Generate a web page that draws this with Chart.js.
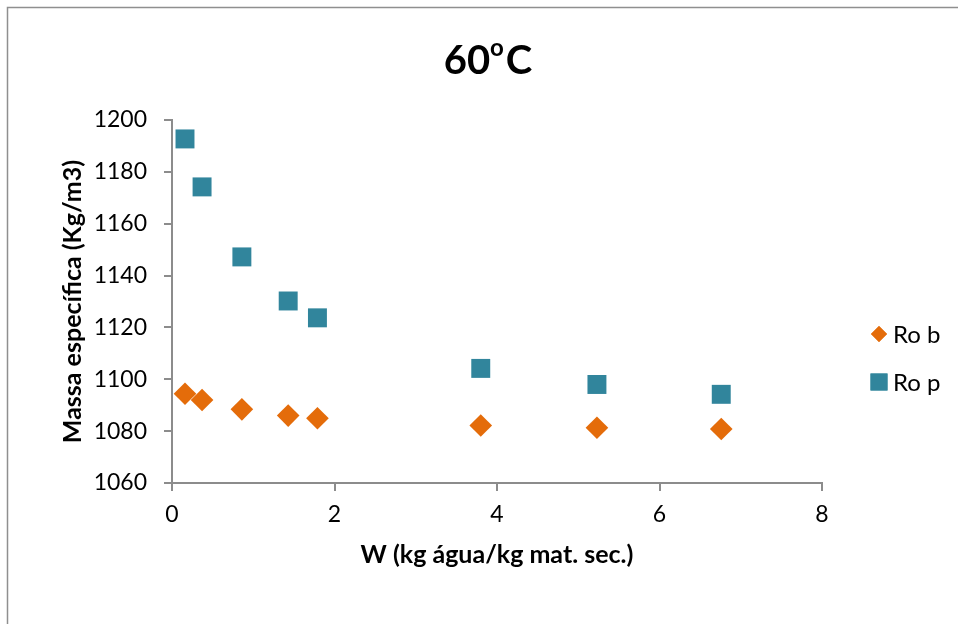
<!DOCTYPE html>
<html>
<head>
<meta charset="utf-8">
<script src="https://cdn.jsdelivr.net/npm/chart.js@4.4.1/dist/chart.umd.min.js"></script>
<style>
  html, body { margin: 0; padding: 0; background: #ffffff; overflow: hidden; }
  #wrap { width: 958px; height: 624px; position: relative; }
</style>
</head>
<body>
<div id="wrap"><canvas id="chart" width="958" height="624"></canvas></div>
<script>
// Water content W (kg water / kg dry matter)
const wValues = [0.16, 0.37, 0.86, 1.43, 1.79, 3.80, 5.23, 6.76];
// Specific mass series (kg/m3)
const roB = [1094.4, 1092.0, 1088.4, 1086.0, 1085.0, 1082.2, 1081.3, 1080.8];
const roP = [1192.7, 1174.2, 1147.2, 1130.2, 1123.7, 1104.2, 1098.0, 1094.2];
const seriesNames = ['Ro b', 'Ro p'];
const xTicks = [0, 2, 4, 6, 8];
const yTicks = [1060, 1080, 1100, 1120, 1140, 1160, 1180, 1200];

const FONT = 'Lato, "Open Sans", "Liberation Sans", sans-serif';
const AXIS_GRAY = '#8c8c8c';
const ORANGE = '#E46C0A';
const TEAL = '#31859C';

const toPoints = (ys) => wValues.map((w, i) => ({ x: w, y: ys[i] }));

// Outer frame, superscript title and the right-hand legend
const decorations = {
  id: 'decorations',
  beforeDraw(chart) {
    const ctx = chart.ctx;
    ctx.save();
    ctx.strokeStyle = '#8f8f8f';
    ctx.lineWidth = 1.5;
    ctx.strokeRect(7.5, 7.5, 2000, 2000);
    ctx.restore();
  },
  afterDraw(chart) {
    const ctx = chart.ctx;
    ctx.save();
    // Title "60ºC" with raised small o
    const big = 'bold 40px ' + FONT;
    const small = 'bold 24px ' + FONT;
    ctx.fillStyle = '#000';
    ctx.textBaseline = 'alphabetic';
    ctx.font = big;
    const w60 = ctx.measureText('60').width;
    const wC = ctx.measureText('C').width;
    ctx.font = small;
    const wo = ctx.measureText('o').width;
    const total = w60 + wo + 2 + wC;
    let x = 488 - total / 2;
    const base = 74;
    ctx.font = big; ctx.textAlign = 'left';
    ctx.fillText('60', x, base); x += w60;
    ctx.font = small;
    ctx.fillText('o', x, base - 18); x += wo + 2;
    ctx.font = big;
    ctx.fillText('C', x, base);

    // Legend
    const items = [
      { ds: chart.data.datasets[0], y: 334, r: 8 },
      { ds: chart.data.datasets[1], y: 382, r: 12 }
    ];
    items.forEach(it => {
      ctx.fillStyle = it.ds.backgroundColor;
      ctx.beginPath();
      Chart.helpers.drawPoint(ctx, {
        pointStyle: it.ds.pointStyle, radius: it.r, rotation: 0, borderWidth: 0
      }, 879, it.y);
      ctx.fill();
      ctx.fillStyle = '#000';
      ctx.font = '24px ' + FONT;
      ctx.textBaseline = 'middle';
      ctx.textAlign = 'left';
      ctx.fillText(it.ds.label, 893, it.y + 1);
    });
    ctx.restore();
  }
};

new Chart(document.getElementById('chart'), {
  type: 'scatter',
  data: {
    datasets: [
      {
        label: seriesNames[0],
        data: toPoints(roB),
        pointStyle: 'rectRot',
        pointRadius: 11.3,
        pointHoverRadius: 11.3,
        backgroundColor: ORANGE,
        borderColor: ORANGE,
        pointBorderWidth: 0
      },
      {
        label: seriesNames[1],
        data: toPoints(roP),
        pointStyle: 'rect',
        pointRadius: 13.4,
        pointHoverRadius: 13.4,
        backgroundColor: TEAL,
        borderColor: TEAL,
        pointBorderWidth: 0
      }
    ]
  },
  plugins: [decorations],
  options: {
    responsive: false,
    animation: false,
    events: [],
    layout: { padding: { top: 120, right: 136, bottom: 0, left: 0 } },
    plugins: {
      legend: { display: false },
      title: { display: false },
      tooltip: { enabled: false }
    },
    scales: {
      x: {
        type: 'linear',
        min: 0, max: 8,
        afterBuildTicks(scale) { scale.ticks = xTicks.map(v => ({ value: v })); },
        afterFit(scale) { scale.height = 141; },
        border: { display: true, color: AXIS_GRAY, width: 2 },
        grid: { display: true, drawOnChartArea: false, drawTicks: true, tickLength: 8, color: AXIS_GRAY, lineWidth: 2 },
        ticks: { color: '#000', font: { family: FONT, size: 23 }, padding: 10, maxRotation: 0,
                 callback: (v) => String(v) },
        title: {
          display: true, text: 'W (kg água/kg mat. sec.)', color: '#000',
          font: { family: FONT, size: 25, weight: 'bold' }, padding: { top: 0, bottom: 54 }
        }
      },
      y: {
        type: 'linear',
        min: 1060, max: 1200,
        afterBuildTicks(scale) { scale.ticks = yTicks.map(v => ({ value: v })); },
        afterFit(scale) { scale.width = 172; },
        border: { display: true, color: AXIS_GRAY, width: 2 },
        grid: { display: true, drawOnChartArea: false, drawTicks: true, tickLength: 8, color: AXIS_GRAY, lineWidth: 2 },
        ticks: { color: '#000', font: { family: FONT, size: 23 }, padding: 17,
                 callback: (v) => String(v) },
        title: {
          display: true, text: 'Massa específica (Kg/m3)', color: '#000',
          font: { family: FONT, size: 25, weight: 'bold' }, padding: { top: 58, bottom: 0 }
        }
      }
    }
  }
});
</script>
</body>
</html>
